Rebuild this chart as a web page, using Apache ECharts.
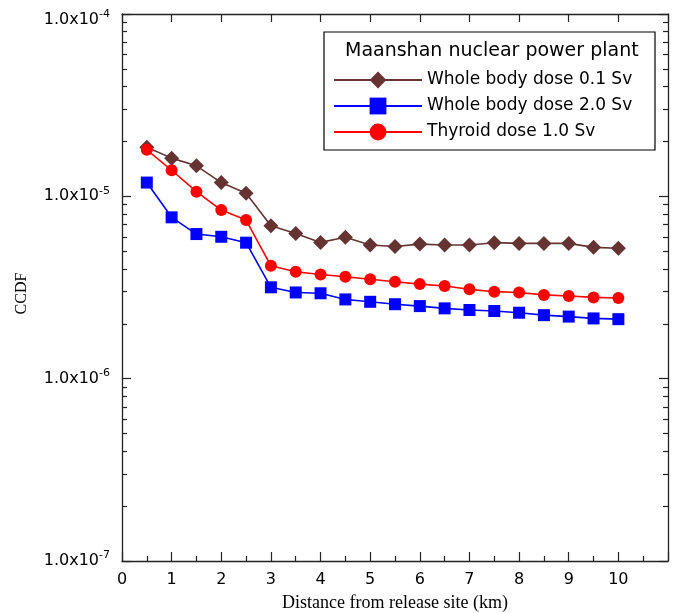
<!DOCTYPE html>
<html>
<head>
<meta charset="utf-8">
<script src="https://cdn.jsdelivr.net/npm/echarts@6/dist/echarts.min.js"></script>
<style>
  html, body { margin: 0; padding: 0; background: #fff; }
  #chart { width: 680px; height: 613px; }
</style>
</head>
<body>
<div id="chart"></div>
<script>
// distance from release site (km)
const distances = [0.5, 1, 1.5, 2, 2.5, 3, 3.5, 4, 4.5, 5, 5.5, 6, 6.5, 7, 7.5, 8, 8.5, 9, 9.5, 10]

// CCDF values
const wholeBody01 = [1.86e-5, 1.62e-5, 1.47e-5, 1.19e-5, 1.04e-5, 6.9e-6, 6.26e-6, 5.59e-6, 5.96e-6, 5.41e-6,
  5.31e-6, 5.47e-6, 5.41e-6, 5.41e-6, 5.57e-6, 5.52e-6, 5.52e-6, 5.52e-6, 5.25e-6, 5.19e-6]
const wholeBody20 = [1.19e-5, 7.67e-6, 6.21e-6, 6.0e-6, 5.57e-6, 3.17e-6, 2.97e-6, 2.94e-6, 2.72e-6, 2.64e-6,
  2.56e-6, 2.50e-6, 2.43e-6, 2.38e-6, 2.35e-6, 2.30e-6, 2.23e-6, 2.19e-6, 2.14e-6, 2.12e-6]
const thyroid10 = [1.80e-5, 1.39e-5, 1.06e-5, 8.41e-6, 7.41e-6, 4.16e-6, 3.86e-6, 3.73e-6, 3.62e-6, 3.51e-6,
  3.40e-6, 3.30e-6, 3.22e-6, 3.09e-6, 3.0e-6, 2.97e-6, 2.88e-6, 2.84e-6, 2.79e-6, 2.77e-6]

const xTickLabels = [0, 1, 2, 3, 4, 5, 6, 7, 8, 9, 10]
const yTickValues = [1e-7, 1e-6, 1e-5, 1e-4]

const seriesNames = ['Whole body dose 0.1 Sv', 'Whole body dose 2.0 Sv', 'Thyroid dose 1.0 Sv']

// log minor ticks 2..9 inside each decade
function minorLogTicks(decades) {
  var res = []
  for (var i = 0; i < decades.length - 1; i++) {
    for (var k = 2; k <= 9; k++) res.push(k * decades[i])
  }
  return res
}

function pairs(vals) {
  return distances.map(function (d, i) { return [d, vals[i]] })
}

const sans = 'DejaVu Sans'
const serif = 'Liberation Serif'
const axisColor = '#222'

const yMin = yTickValues[0]
const yMax = yTickValues[yTickValues.length - 1]

function yLabel(v) {
  var e = Math.round(Math.log10(v))
  // the top label sits a little below its tick in the original
  if (e === Math.round(Math.log10(yMax))) return '{bt|1.0x10}{st|' + e + '}'
  return '{b|1.0x10}{s|' + e + '}'
}

function yAxisBase(extra) {
  return Object.assign({
    type: 'log',
    logBase: 10,
    min: yMin,
    max: yMax,
    splitLine: { show: false }
  }, extra)
}

const chart = echarts.init(document.getElementById('chart'))

const option = {
  animation: false,
  backgroundColor: '#fff',
  title: {
    text: 'Maanshan nuclear power plant',
    left: 345,
    top: 42,
    padding: 0,
    textStyle: { fontFamily: sans, fontSize: 19, fontWeight: 'normal', color: '#000' }
  },
  graphic: [{
    type: 'rect',
    z: 0,
    shape: { x: 324, y: 32, width: 331, height: 118 },
    style: { fill: 'none', stroke: '#000', lineWidth: 1.2 }
  }],
  legend: {
    orient: 'vertical',
    left: 333,
    top: 70,
    padding: 0,
    itemWidth: 88,
    itemHeight: 21,
    itemGap: 6,
    textStyle: { fontFamily: sans, fontSize: 17, color: '#000', lineHeight: 20 },
    data: seriesNames
  },
  grid: { left: 122, right: 12, top: 14, bottom: 52, outerBoundsMode: 'none' },
  xAxis: [
    {
      type: 'value',
      min: 0,
      max: 11,
      interval: 1,
      name: 'Distance from release site (km)',
      nameLocation: 'middle',
      nameGap: 33,
      nameTextStyle: { fontFamily: serif, fontSize: 18, color: '#000' },
      axisLine: { lineStyle: { color: axisColor, width: 1.3 } },
      axisTick: { inside: true, length: 9, lineStyle: { color: axisColor, width: 1.2 } },
      minorTick: { show: true, splitNumber: 2, length: 5, lineStyle: { color: axisColor, width: 1.2 } },
      axisLabel: { customValues: xTickLabels, margin: 11, fontFamily: sans, fontSize: 16, color: '#000' },
      splitLine: { show: false }
    },
    {
      type: 'value',
      position: 'top',
      min: 0,
      max: 11,
      interval: 1,
      axisLine: { lineStyle: { color: axisColor, width: 1.3 } },
      axisTick: { inside: true, length: 8, lineStyle: { color: axisColor, width: 1.2 } },
      axisLabel: { show: false },
      splitLine: { show: false }
    }
  ],
  yAxis: [
    yAxisBase({
      position: 'left',
      name: 'CCDF',
      nameLocation: 'middle',
      nameRotate: 90,
      nameGap: 92,
      nameTextStyle: { fontFamily: serif, fontSize: 16, color: '#000', padding: [0, 12, 0, 0] },
      axisLine: { lineStyle: { color: axisColor, width: 1.3 } },
      axisTick: { inside: true, length: 9, customValues: yTickValues, lineStyle: { color: axisColor, width: 1.2 } },
      axisLabel: {
        customValues: yTickValues,
        margin: 12,
        formatter: yLabel,
        rich: {
          b: { fontFamily: sans, fontSize: 16, color: '#000', lineHeight: 22 },
          s: { fontFamily: sans, fontSize: 11, color: '#000', lineHeight: 11, verticalAlign: 'top' },
          bt: { fontFamily: sans, fontSize: 16, color: '#000', lineHeight: 22, padding: [12, 0, 0, 0] },
          st: { fontFamily: sans, fontSize: 11, color: '#000', lineHeight: 11, verticalAlign: 'top', padding: [6, 0, 0, 0] }
        }
      }
    }),
    yAxisBase({
      position: 'left',
      axisLine: { show: false },
      axisTick: { inside: true, length: 5, customValues: minorLogTicks(yTickValues), lineStyle: { color: axisColor, width: 1.2 } },
      axisLabel: { show: false }
    }),
    yAxisBase({
      position: 'right',
      axisLine: { lineStyle: { color: axisColor, width: 1.3 } },
      axisTick: { inside: true, length: 9, customValues: yTickValues, lineStyle: { color: axisColor, width: 1.2 } },
      axisLabel: { show: false }
    }),
    yAxisBase({
      position: 'right',
      axisLine: { show: false },
      axisTick: { inside: true, length: 5, customValues: minorLogTicks(yTickValues), lineStyle: { color: axisColor, width: 1.2 } },
      axisLabel: { show: false }
    })
  ],
  series: [
    {
      name: seriesNames[0],
      type: 'line',
      symbol: 'diamond',
      symbolSize: 15,
      color: '#663333',
      lineStyle: { width: 1.6, color: '#663333' },
      data: pairs(wholeBody01)
    },
    {
      name: seriesNames[1],
      type: 'line',
      symbol: 'rect',
      symbolSize: 12,
      color: '#0000ff',
      lineStyle: { width: 1.6, color: '#0000ff' },
      data: pairs(wholeBody20)
    },
    {
      name: seriesNames[2],
      type: 'line',
      symbol: 'circle',
      symbolSize: 12,
      color: '#ff0000',
      lineStyle: { width: 1.6, color: '#ff0000' },
      data: pairs(thyroid10)
    }
  ]
}

chart.setOption(option)
</script>
</body>
</html>
